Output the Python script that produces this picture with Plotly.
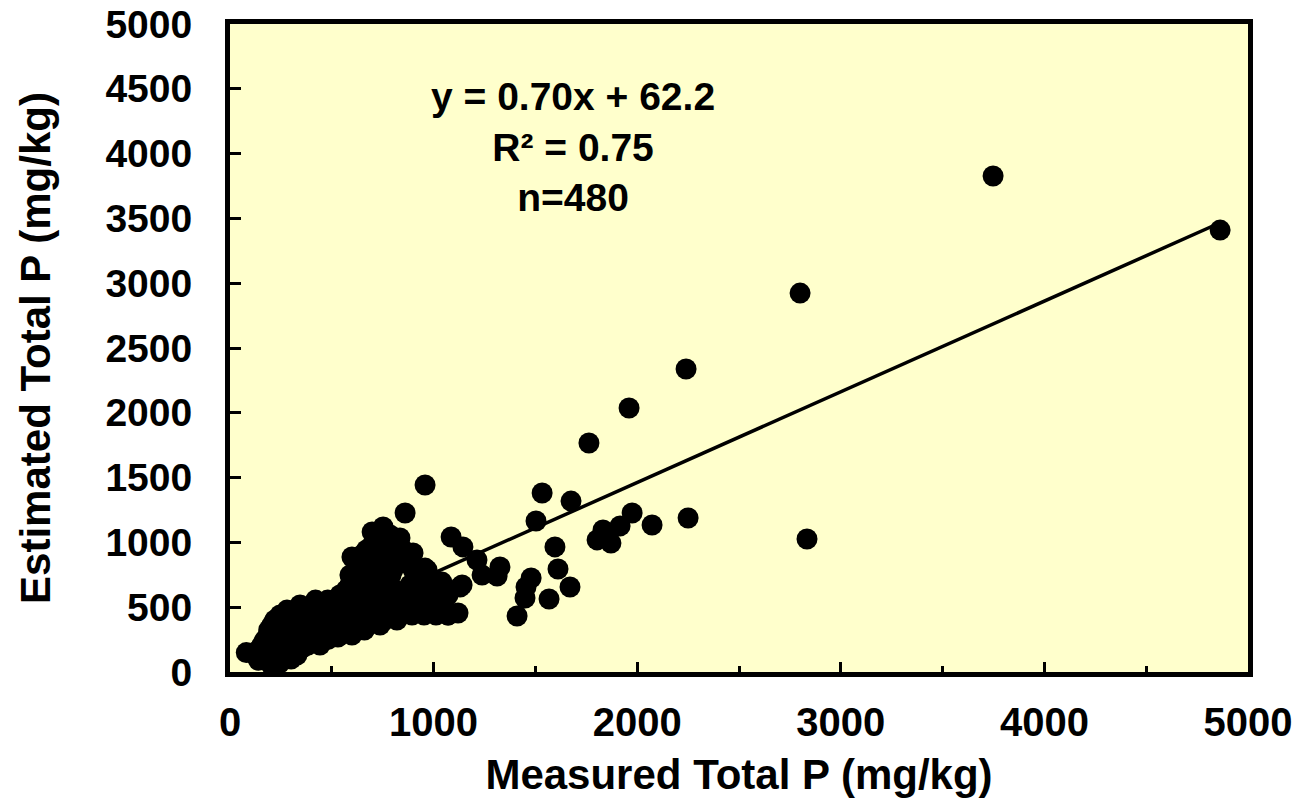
import plotly.graph_objects as go

# ---- data ----
blob_rows_y = [131, 170, 208, 246, 285, 324, 363, 401, 440, 478, 517, 555, 594, 632,
               671, 710, 748, 787, 826, 864, 903, 942, 980, 1018, 1057]
blob_rows_x = [
    [123, 172, 221, 270, 329],
    [140, 190, 240, 290, 340],
    [157, 206, 265, 324, 383, 442],
    [170, 225, 285, 345, 405, 460],
    [187, 246, 305, 363, 422, 481, 540, 599],
    [190, 250, 310, 370, 430, 490, 550, 610, 660],
    [206, 265, 324, 383, 442, 501, 560, 619, 678, 737],
    [220, 280, 340, 400, 460, 520, 580, 640, 700, 760, 820],
    [246, 305, 363, 422, 481, 540, 599, 658, 717, 776, 835, 894, 953, 1012, 1071],
    [280, 335, 390, 450, 510, 570, 630, 690, 750, 810, 870, 930, 990, 1050],
    [344, 403, 462, 521, 580, 639, 698, 756, 815, 874, 933, 992, 1051],
    [420, 480, 540, 600, 660, 720, 780, 840, 900, 960, 1020],
    [540, 599, 658, 717, 776, 835, 894, 953, 1012, 1071],
    [570, 630, 690, 750, 810, 870, 930, 990],
    [589, 648, 707, 766, 884, 943, 1002],
    [600, 660, 720, 780, 930, 990],
    [614, 673, 732, 791, 909, 968],
    [620, 680, 740, 800, 900],
    [639, 698, 756, 815, 884],
    [640, 700, 760, 820],
    [648, 707, 766, 825, 884],
    [670, 730, 790, 850],
    [698, 756, 815],
    [720, 780, 830],
    [727, 786],
]

extra_x = [80, 140, 200, 245, 300, 4863, 3748, 2800, 2240, 1960, 1763, 958, 1533, 1675,
           1503, 1975, 1916, 1832, 1803, 1871, 2073, 2250, 2834, 1596, 1611, 1670,
           1567, 1479, 1454, 1449, 1410, 1086, 1144, 1213, 1238, 1326, 1312, 1140,
           1120, 1071, 968, 1017, 860, 752, 698, 835, 899, 599, 958, 589, 1041, 1130,
           300, 360, 420, 480, 530, 580, 640, 700, 760, 880, 930, 250, 310, 370, 430]
extra_y = [150, 90, 60, 70, 100, 3410, 3827, 2924, 2338, 2037, 1767, 1443, 1381, 1319,
           1165, 1227, 1127, 1096, 1019, 995, 1134, 1188, 1026, 965, 795, 656,
           563, 725, 656, 571, 432, 1042, 965, 864, 748, 810, 741, 671,
           455, 440, 787, 687, 1227, 1119, 1080, 1034, 918, 887, 802, 748, 694, 656,
           170, 190, 230, 250, 270, 300, 330, 380, 420, 450, 470, 110, 150, 250, 340]

slope = 0.70
intercept = 62.2
fit_x = [70, 4863]

x_ticks = [0, 1000, 2000, 3000, 4000, 5000]
y_ticks = [0, 500, 1000, 1500, 2000, 2500, 3000, 3500, 4000, 4500, 5000]

# ---- build ----
meas = []
est = []
for yv, xs in zip(blob_rows_y, blob_rows_x):
    for xv in xs:
        meas.append(xv)
        est.append(yv)
meas += extra_x
est += extra_y

fit_y = [slope * v + intercept for v in fit_x]

FONT = "Liberation Sans, Arial, sans-serif"

fig = go.Figure()
fig.add_trace(go.Scatter(x=fit_x, y=fit_y, mode="lines",
                         line=dict(color="black", width=3.5), hoverinfo="skip",
                         showlegend=False))
fig.add_trace(go.Scatter(x=meas, y=est, mode="markers",
                         marker=dict(color="black", size=21, line=dict(width=0)),
                         showlegend=False))

# the page body adds an 8 px margin, so the figure is sized 8 px smaller
fig.update_layout(
    width=1293, height=790,
    margin=dict(l=222, r=53, t=16, b=126, autoexpand=False),
    paper_bgcolor="white",
    plot_bgcolor="#FFFFCC",
    font=dict(family=FONT, color="black", size=40, weight="bold"),
    showlegend=False,
)

fig.update_xaxes(
    range=[0, 5000], tickvals=x_ticks, ticktext=[str(v) for v in x_ticks],
    showgrid=False, zeroline=False, automargin=False, ticklabeloverflow="allow",
    showline=True, linecolor="black", linewidth=5, mirror=True,
    ticks="inside", ticklen=10, tickwidth=3, tickcolor="black",
    minor=dict(dtick=500, tick0=0, ticks="inside", ticklen=6, tickwidth=3, tickcolor="black"),
    tickfont=dict(family=FONT, size=40, weight="bold"),
    ticklabelstandoff=11,
    title=dict(text="Measured Total P (mg/kg)", font=dict(family=FONT, size=42, weight="bold"),
               standoff=32),
)
fig.update_yaxes(
    range=[0, 5000], tickvals=y_ticks, ticktext=[str(v) for v in y_ticks],
    showgrid=False, zeroline=False, automargin=False, ticklabeloverflow="allow",
    showline=True, linecolor="black", linewidth=5, mirror=True,
    ticks="inside", ticklen=11, tickwidth=3, tickcolor="black",
    tickfont=dict(family=FONT, size=39, weight="bold"),
    ticklabelstandoff=25,
    title=dict(text="Estimated Total P (mg/kg)", font=dict(family=FONT, size=42, weight="bold"),
               standoff=43),
)

fig.add_annotation(
    x=0.337, y=0.810, xref="paper", yref="paper",
    xanchor="center", yanchor="middle", showarrow=False,
    text="y = 0.70x + 62.2<br>R² = 0.75<br>n=480",
    font=dict(family=FONT, size=39, weight="bold", color="black"),
    align="center",
)

fig.write_html("out.html")
